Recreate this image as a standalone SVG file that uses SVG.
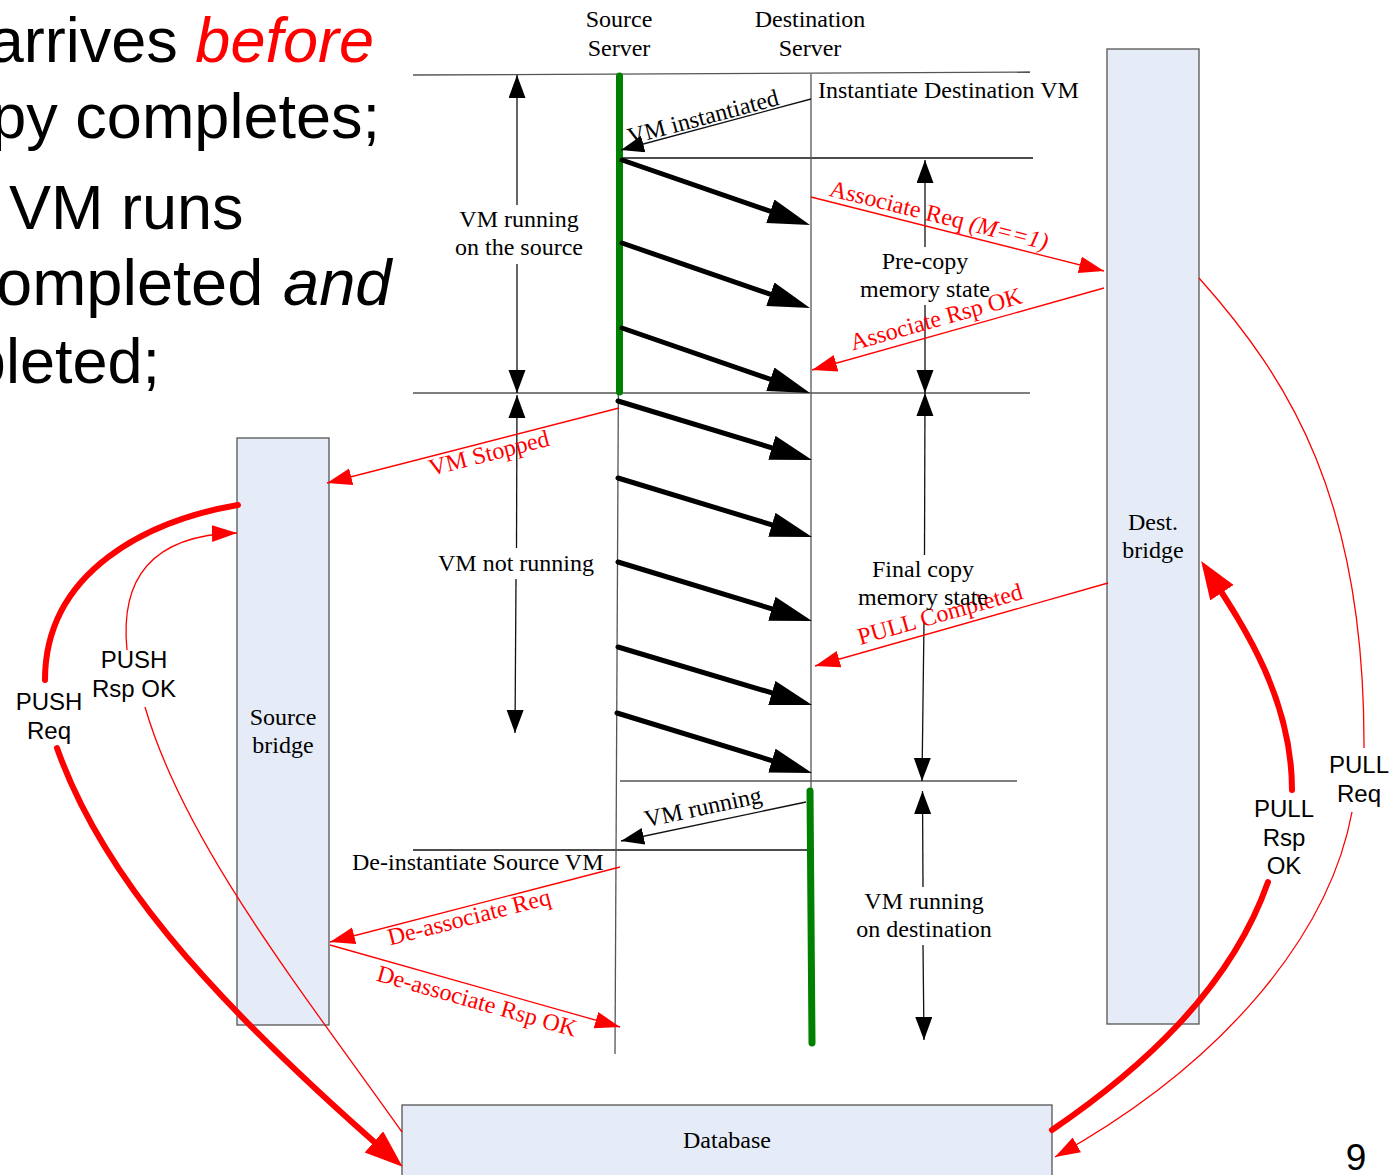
<svg xmlns="http://www.w3.org/2000/svg" width="1396" height="1175" viewBox="0 0 1396 1175">
<style>
.t{font-family:"Liberation Serif","Times New Roman",serif;font-size:24px;fill:#000}
.rt{font-family:"Liberation Serif","Times New Roman",serif;font-size:24px;fill:#FF0000}
.s{font-family:"Liberation Sans",Arial,sans-serif;font-size:24px;fill:#000}
.big{font-family:"Liberation Sans",Arial,sans-serif;font-size:63px;fill:#000}
.big65{font-family:"Liberation Sans",Arial,sans-serif;font-size:65px;fill:#000}
.pg{font-family:"Liberation Sans",Arial,sans-serif;font-size:37px;fill:#000}
.ln{stroke:#555;stroke-width:1.3;fill:none}
.k{stroke:#111;stroke-width:1.3;fill:none}
.thick{stroke:#000;stroke-width:5;stroke-linecap:round;fill:none}
.red{stroke:#FF0000;stroke-width:1.3;fill:none}
.redt{stroke:#FF0000;stroke-width:6;stroke-linecap:round;fill:none}
.green{stroke:#008000;stroke-width:7;stroke-linecap:round;fill:none}
.box{fill:#E5ECF7;stroke:#555;stroke-width:1.3}
</style>
<defs>
<marker id="ak" markerUnits="userSpaceOnUse" markerWidth="24" markerHeight="18" refX="23" refY="8.5" orient="auto-start-reverse"><path d="M0,0 L23,8.5 L0,17 Z" fill="#000"/></marker>
<marker id="akb" markerUnits="userSpaceOnUse" markerWidth="43" markerHeight="26" refX="22" refY="12.5" orient="auto"><path d="M0,0 L42,12.5 L0,25 Z" fill="#000"/></marker>
<marker id="ar" markerUnits="userSpaceOnUse" markerWidth="26" markerHeight="18" refX="25" refY="8.5" orient="auto"><path d="M0,0 L25,8.5 L0,17 Z" fill="#FF0000"/></marker>
<marker id="arb" markerUnits="userSpaceOnUse" markerWidth="39" markerHeight="29" refX="20" refY="14" orient="auto"><path d="M0,0 L38,14 L0,28 Z" fill="#FF0000"/></marker>
</defs>

<g id="slide-text">
<text class="big" x="374" y="62" text-anchor="end">arrives <tspan font-style="italic" fill="#FF0000">before</tspan></text>
<text class="big" x="380" y="138" text-anchor="end">py completes;</text>
<text class="big" x="9" y="229">VM runs</text>
<text class="big65" y="305"><tspan x="-4">ompleted</tspan> <tspan x="283" font-style="italic">and</tspan></text>
<text class="big" x="160" y="383" text-anchor="end">pleted;</text>
<text class="pg" x="1356" y="1170" text-anchor="middle">9</text>
</g>

<g id="source-server">
<text class="t" x="619" y="27" text-anchor="middle">Source</text>
<text class="t" x="619" y="56" text-anchor="middle">Server</text>
</g>
<g id="destination-server">
<text class="t" x="810" y="27" text-anchor="middle">Destination</text>
<text class="t" x="810" y="56" text-anchor="middle">Server</text>
</g>

<g id="source-bridge">
<rect class="box" x="237" y="438" width="92" height="587"/>
<text class="t" x="283" y="725" text-anchor="middle">Source</text>
<text class="t" x="283" y="753" text-anchor="middle">bridge</text>
</g>
<g id="dest-bridge">
<rect class="box" x="1107" y="49" width="92" height="975"/>
<text class="t" x="1153" y="530" text-anchor="middle">Dest.</text>
<text class="t" x="1153" y="558" text-anchor="middle">bridge</text>
</g>
<g id="database">
<rect class="box" x="402" y="1105" width="650" height="80"/>
<text class="t" x="727" y="1148" text-anchor="middle">Database</text>
</g>

<g id="connectors">
<line class="ln" x1="413" y1="75" x2="1030" y2="72"/>
<line class="k" x1="620" y1="158" x2="1033" y2="158"/>
<line class="ln" x1="413" y1="393" x2="1030" y2="393"/>
<line class="ln" x1="620" y1="781" x2="1017" y2="781"/>
<line class="k" x1="413" y1="850" x2="808" y2="850"/>
<line class="ln" x1="620" y1="75" x2="615" y2="1054"/>
<line class="ln" x1="811" y1="74" x2="811" y2="1040"/>
<line class="green" x1="619.5" y1="76" x2="619.5" y2="392"/>
<line class="green" x1="810" y1="791" x2="812" y2="1043"/>

<line class="k" x1="811" y1="99" x2="621" y2="150" marker-end="url(#ak)"/>
<line class="k" x1="806" y1="802" x2="621" y2="841" marker-end="url(#ak)"/>

<line class="thick" x1="622" y1="160" x2="791.1" y2="218.5" marker-end="url(#akb)"/>
<line class="thick" x1="622" y1="243" x2="791.1" y2="301.5" marker-end="url(#akb)"/>
<line class="thick" x1="622" y1="328" x2="791.1" y2="386.5" marker-end="url(#akb)"/>
<line class="thick" x1="618" y1="401" x2="792.9" y2="454.2" marker-end="url(#akb)"/>
<line class="thick" x1="618" y1="478" x2="792.9" y2="531.2" marker-end="url(#akb)"/>
<line class="thick" x1="618" y1="562" x2="792.9" y2="615.2" marker-end="url(#akb)"/>
<line class="thick" x1="618" y1="647" x2="792.9" y2="699.2" marker-end="url(#akb)"/>
<line class="thick" x1="617" y1="713" x2="792.9" y2="767.1" marker-end="url(#akb)"/>

<line class="k" x1="517" y1="75" x2="517" y2="205" marker-start="url(#ak)"/>
<line class="k" x1="517" y1="264" x2="517" y2="393" marker-end="url(#ak)"/>
<line class="k" x1="517" y1="395" x2="516.5" y2="548" marker-start="url(#ak)"/>
<line class="k" x1="516" y1="579" x2="515" y2="733" marker-end="url(#ak)"/>
<line class="k" x1="925" y1="160" x2="925" y2="247" marker-start="url(#ak)"/>
<line class="k" x1="925" y1="305" x2="925" y2="393" marker-end="url(#ak)"/>
<line class="k" x1="925" y1="393" x2="924.5" y2="555" marker-start="url(#ak)"/>
<line class="k" x1="924" y1="622" x2="922" y2="781" marker-end="url(#ak)"/>
<line class="k" x1="922.5" y1="791" x2="923" y2="887" marker-start="url(#ak)"/>
<line class="k" x1="923" y1="945" x2="924" y2="1040" marker-end="url(#ak)"/>

<line class="red" x1="811" y1="197" x2="1104" y2="271" marker-end="url(#ar)"/>
<line class="red" x1="1104" y1="288" x2="812" y2="370" marker-end="url(#ar)"/>
<line class="red" x1="619" y1="408" x2="327" y2="483" marker-end="url(#ar)"/>
<line class="red" x1="1108" y1="583" x2="815" y2="666" marker-end="url(#ar)"/>
<line class="red" x1="620" y1="867" x2="330" y2="942" marker-end="url(#ar)"/>
<line class="red" x1="330" y1="945" x2="620" y2="1027" marker-end="url(#ar)"/>

<path class="redt" d="M238,505 C150,520 45,570 45,680"/>
<path class="redt" d="M57,748 C100,870 200,990 389,1155" marker-end="url(#arb)"/>
<path class="red" d="M402,1132 C305,995 185,845 145,707"/>
<path class="red" d="M127,650 C120,580 150,535 237,533" marker-end="url(#ar)"/>
<path class="redt" d="M1052,1130 C1140,1070 1230,990 1268,882"/>
<path class="redt" d="M1292,790 C1292,700 1245,628 1211,576" marker-end="url(#arb)"/>
<path class="red" d="M1199,278 C1290,380 1365,500 1364,748"/>
<path class="red" d="M1352,812 C1330,930 1230,1060 1055,1157" marker-end="url(#ar)"/>

<text class="t" transform="translate(703,117) rotate(-15)" y="8" text-anchor="middle">VM instantiated</text>
<text class="rt" transform="translate(939,215) rotate(14)" y="8" text-anchor="middle">Associate Req <tspan font-style="italic">(M==1)</tspan></text>
<text class="rt" transform="translate(936,319) rotate(-15.6)" y="8" text-anchor="middle">Associate Rsp OK</text>
<text class="rt" transform="translate(489,453) rotate(-14.4)" y="8" text-anchor="middle">VM Stopped</text>
<text class="rt" transform="translate(940,614) rotate(-15.8)" y="8" text-anchor="middle">PULL Completed</text>
<text class="t" transform="translate(703,807) rotate(-12)" y="8" text-anchor="middle">VM running</text>
<text class="rt" transform="translate(469,917) rotate(-14.4)" y="8" text-anchor="middle">De-associate Req</text>
<text class="rt" transform="translate(477,1001) rotate(15.8)" y="8" text-anchor="middle">De-associate Rsp OK</text>

<text class="t" x="818" y="98">Instantiate Destination VM</text>
<text class="t" x="352" y="870">De-instantiate Source VM</text>
<text class="t" x="519" y="227" text-anchor="middle">VM running</text>
<text class="t" x="519" y="255" text-anchor="middle">on the source</text>
<text class="t" x="516" y="571" text-anchor="middle">VM not running</text>
<text class="t" x="925" y="269" text-anchor="middle">Pre-copy</text>
<text class="t" x="925" y="297" text-anchor="middle">memory state</text>
<text class="t" x="923" y="577" text-anchor="middle">Final copy</text>
<text class="t" x="923" y="605" text-anchor="middle">memory state</text>
<text class="t" x="924" y="909" text-anchor="middle">VM running</text>
<text class="t" x="924" y="937" text-anchor="middle">on destination</text>

<text class="s" x="49" y="710" text-anchor="middle">PUSH</text>
<text class="s" x="49" y="739" text-anchor="middle">Req</text>
<text class="s" x="134" y="668" text-anchor="middle">PUSH</text>
<text class="s" x="134" y="697" text-anchor="middle">Rsp OK</text>
<text class="s" x="1284" y="817" text-anchor="middle">PULL</text>
<text class="s" x="1284" y="846" text-anchor="middle">Rsp</text>
<text class="s" x="1284" y="874" text-anchor="middle">OK</text>
<text class="s" x="1359" y="773" text-anchor="middle">PULL</text>
<text class="s" x="1359" y="802" text-anchor="middle">Req</text>
</g>
</svg>
